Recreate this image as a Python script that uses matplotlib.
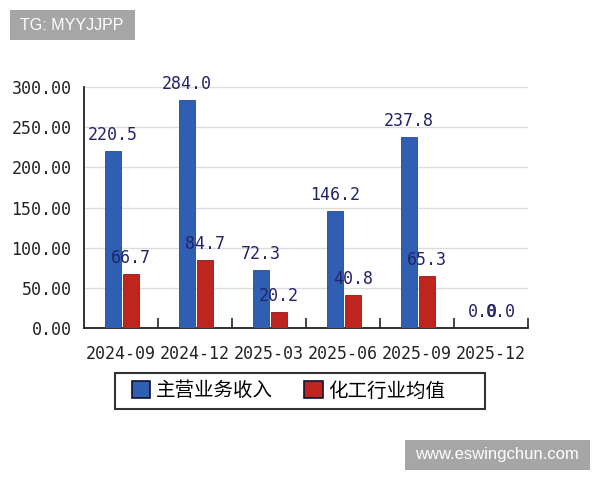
import numpy as np
import matplotlib
matplotlib.use('Agg')
import matplotlib.pyplot as plt
from matplotlib.patches import Rectangle

categories = ['2024-09', '2024-12', '2025-03', '2025-06', '2025-09', '2025-12']
revenue = [220.5, 284.0, 72.3, 146.2, 237.8, 0.0]
industry = [66.7, 84.7, 20.2, 40.8, 65.3, 0.0]
names = ['主营业务收入', '化工行业均值']
yticks = [0, 50, 100, 150, 200, 250, 300]

blue = '#2f5fb3'
red = '#be251e'
lab_col = '#23236a'
mono = ['DejaVu Sans Mono']
cjk = ['Noto Sans CJK SC', 'DejaVu Sans']

fig = plt.figure(figsize=(6, 4.8), dpi=100)
ax = fig.add_axes([0.14, 0.3167, 0.74, 0.502])

x = np.arange(len(categories))
w = 0.225
b1 = ax.bar(x - 0.11, revenue, w, color=blue, edgecolor='#24489a', linewidth=0.6, label=names[0], zorder=3)
b2 = ax.bar(x + 0.135, industry, w, color=red, edgecolor='#8e1a15', linewidth=0.6, label=names[1], zorder=3)

# value labels (the two 0.0 labels overlap in the original too)
for xi, v in zip(x - 0.11, revenue):
    ax.annotate('%.1f' % v, (xi, v), xytext=(0, 11.5), textcoords='offset points',
                ha='center', va='center', fontsize=12, color=lab_col, family=mono, zorder=5)
for xi, v in zip(x + 0.135, industry):
    ax.annotate('%.1f' % v, (xi, v), xytext=(0, 11.5), textcoords='offset points',
                ha='center', va='center', fontsize=12, color=lab_col, family=mono, zorder=5)

ax.set_xlim(-0.5, len(categories) - 0.5)
ax.set_ylim(0, 300)
ax.set_yticks(yticks)
ax.set_yticklabels(['%.2f' % t for t in yticks], family=mono, fontsize=12, color='#222222')
ax.set_xticks(x)
ax.set_xticklabels(categories, family=mono, fontsize=12, color='#222222')
ax.set_xticks(np.arange(len(categories)) + 0.5, minor=True)
ax.tick_params(axis='x', which='major', length=0, pad=12)
ax.tick_params(axis='x', which='minor', direction='in', length=7, width=1.2, color='#222222')
ax.tick_params(axis='y', length=0, pad=9)

ax.grid(axis='y', color='#dcdcdc', linewidth=1, zorder=0)
for s in ['top', 'right']:
    ax.spines[s].set_visible(False)
ax.spines['left'].set_color('#222222')
ax.spines['bottom'].set_color('#222222')
ax.spines['left'].set_linewidth(1.3)
ax.spines['bottom'].set_linewidth(1.3)

# legend with its own frame
leg = fig.legend(handles=[b1, b2], labels=names, loc='center left', ncol=2,
                 bbox_to_anchor=(122 / 600, 1 - 391 / 480), frameon=False,
                 prop={'family': cjk, 'size': 14}, handlelength=0.95, handleheight=0.95,
                 handletextpad=0.3, columnspacing=1.6, borderpad=0)
for h in leg.legend_handles:
    h.set_edgecolor('#111133')
    h.set_linewidth(1.2)
fig.patches.append(Rectangle((115 / 600, 1 - 409 / 480), 370 / 600, 36 / 480,
                             transform=fig.transFigure, fill=False, edgecolor='#333333',
                             linewidth=1.5, figure=fig))

# watermarks
fig.patches.append(Rectangle((10 / 600, 1 - 40 / 480), 125 / 600, 30 / 480,
                             transform=fig.transFigure, facecolor='#a6a6a6', edgecolor='none', figure=fig))
fig.text(72 / 600, 1 - 25 / 480, 'TG: MYYJJPP', ha='center', va='center', color='white',
         fontsize=11.5, family='Liberation Sans')
fig.patches.append(Rectangle((405 / 600, 1 - 470 / 480), 185 / 600, 30 / 480,
                             transform=fig.transFigure, facecolor='#a6a6a6', edgecolor='none', figure=fig))
fig.text(497 / 600, 1 - 455 / 480, 'www.eswingchun.com', ha='center', va='center', color='white',
         fontsize=12, family='Liberation Sans')

fig.savefig('out.png', dpi=100, facecolor='white')
